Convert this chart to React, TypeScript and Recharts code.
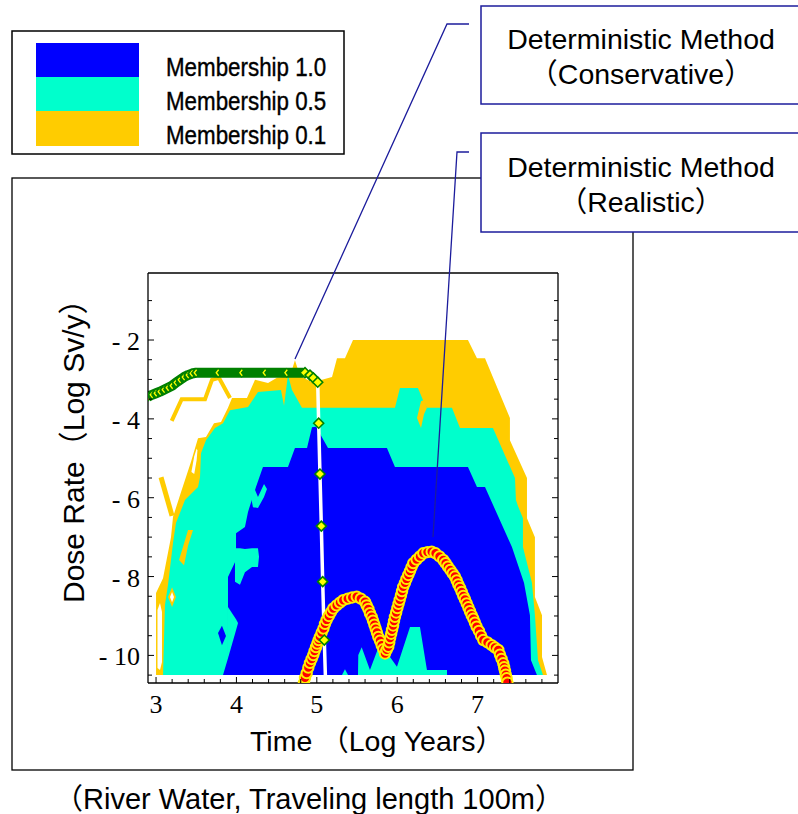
import React from 'react'
import { Area, ComposedChart, Line, XAxis, YAxis } from 'recharts'

const BLUE = '#0000ff'
const CYAN = '#00ffcc'
const YELLOW = '#ffcc00'
const GREEN = '#008000'
const NAVY = '#1c1c9c'
const SANS = "'Liberation Sans', Arial, 'Noto Sans CJK JP', sans-serif"
const SERIF = "'Liberation Serif', 'Times New Roman', 'DejaVu Serif', serif"

// bottom of the computed grid (log Sv/y)
const FLOOR = -10.5

const xTicks = [3, 3.2, 3.4, 3.6, 3.8, 4, 4.2, 4.4, 4.6, 4.8, 5, 5.2, 5.4, 5.6, 5.8, 6, 6.2, 6.4, 6.6, 6.8, 7, 7.2, 7.4, 7.6, 7.8]
const xLabels = [3, 4, 5, 6, 7]
const yTicks = [-1, -1.5, -2, -2.5, -3, -3.5, -4, -4.5, -5, -5.5, -6, -6.5, -7, -7.5, -8, -8.5, -9, -9.5, -10, -10.5]
const yLabels = [-2, -4, -6, -8, -10]

const legendLabels = ['Membership 1.0', 'Membership 0.5', 'Membership 0.1']

// membership contours: [log years, upper edge] (band runs down to FLOOR)
const member01: [number, number][] = [
  [3.0, -10.5], [3.0, -8.42], [3.087, -8.04], [3.186, -7.0], [3.211, -6.49], [3.31, -5.86],
  [3.435, -5.09], [3.522, -4.49], [3.621, -4.46], [3.721, -4.11], [3.808, -4.08], [3.895, -3.72],
  [3.945, -3.47], [4.131, -3.47], [4.231, -3.01], [4.393, -3.09], [4.504, -2.96], [4.666, -2.91],
  [4.728, -2.51], [4.791, -2.91], [5.014, -3.14], [5.064, -3.01], [5.189, -2.94], [5.251, -2.46],
  [5.35, -2.46], [5.45, -2.0], [6.88, -2.0], [6.992, -2.46], [7.092, -2.46], [7.402, -3.98],
  [7.402, -4.54], [7.614, -5.5], [7.614, -6.52], [7.713, -7.0], [7.713, -8.52], [7.801, -8.98],
  [7.801, -10.04], [7.863, -10.5],
]
const member05: [number, number][] = [
  [3.087, -10.5], [3.111, -8.72], [3.149, -8.21], [3.211, -7.15], [3.248, -6.64], [3.36, -6.06],
  [3.522, -5.73], [3.547, -5.48], [3.559, -4.87], [3.621, -4.54], [3.733, -4.23], [3.833, -4.11],
  [3.92, -3.78], [4.144, -3.7], [4.268, -3.32], [4.554, -3.27], [4.592, -3.67], [4.641, -2.89],
  [4.691, -3.27], [4.815, -3.72], [5.972, -3.72], [6.034, -3.22], [6.258, -3.22], [6.32, -3.52],
  [6.37, -3.72], [6.681, -3.72], [6.781, -4.23], [7.191, -4.23], [7.465, -5.5], [7.477, -6.06],
  [7.502, -6.21], [7.564, -6.52], [7.564, -7.25], [7.676, -8.16], [7.713, -8.98], [7.751, -10.12],
  [7.813, -10.5],
]
const member10: [number, number][] = [
  [3.833, -10.5], [3.895, -10.07], [3.895, -8.01], [3.995, -7.58], [3.995, -6.9], [4.106, -6.74],
  [4.144, -6.36], [4.243, -5.73], [4.33, -5.22], [4.641, -5.22], [4.728, -4.74], [4.878, -4.74],
  [4.94, -4.21], [4.99, -4.2], [5.139, -4.74], [5.872, -4.74], [5.972, -5.22], [6.88, -5.22],
  [6.992, -5.73], [7.092, -5.73], [7.427, -7.25], [7.577, -8.16], [7.651, -8.98], [7.664, -10.12],
  [7.738, -10.5],
]

// holes and islands: [log years, low, high]
const gapLeftStrip: [number, number, number][] = [[3.018, -10.32, -8.85], [3.049, -10.37, -8.67], [3.074, -10.17, -8.9]]
const gapSliver: [number, number, number][] = [[3.44, -5.35, -5.35], [3.475, -5.4, -4.95], [3.505, -5.05, -4.75], [3.515, -4.8, -4.8]]
const low01Strip: [number, number, number][] = [[3.286, -7.58, -7.58], [3.348, -7.71, -7.16], [3.398, -7.22, -6.82], [3.46, -6.82, -6.82]]
const low01Ring: [number, number, number][] = [[3.149, -8.52, -8.52], [3.199, -8.77, -8.27], [3.248, -8.52, -8.52]]
const gapRing: [number, number, number][] = [[3.174, -8.52, -8.52], [3.199, -8.65, -8.39], [3.223, -8.52, -8.52]]
const low01Notch: [number, number, number][] = [[6.246, -3.98, -3.98], [6.296, -4.23, -3.55], [6.333, -3.88, -3.52], [6.37, -3.72, -3.72]]
const mid05Pocket: [number, number, number][] = [[3.895, -10.07, -8.77], [3.995, -9.36, -9.08], [4.02, -9.18, -9.18]]
const mid05Hook: [number, number, number][] = [[4.169, -5.86, -5.75], [4.206, -6.24, -5.68], [4.268, -6.26, -5.98], [4.343, -5.98, -5.65], [4.38, -5.78, -5.78]]
const mid05Seven: [number, number, number][] = [[3.982, -8.13, -7.28], [4.044, -8.21, -7.28], [4.106, -7.89, -7.3], [4.194, -7.76, -7.28], [4.268, -7.76, -7.28], [4.281, -7.5, -7.5]]
const mid05BaseA: [number, number, number][] = [[5.313, -10.5, -10.5], [5.35, -10.5, -10.35], [5.388, -10.5, -10.5]]
const mid05BaseB: [number, number, number][] = [
  [5.512, -10.5, -10.5], [5.516, -10.5, -9.99], [5.558, -10.5, -9.79], [5.661, -10.5, -10.37],
  [5.786, -10.5, -9.69], [5.848, -10.5, -9.86], [5.997, -10.5, -10.29], [6.159, -10.5, -9.28],
  [6.283, -10.5, -9.28], [6.37, -10.5, -10.37], [6.619, -10.5, -10.37], [6.62, -10.5, -10.5],
]
const core10Spot: [number, number, number][] = [[3.771, -9.43, -9.43], [3.82, -9.74, -9.25], [3.87, -9.51, -9.51]]

// thin 0.1 contour lines in the upper left
const edgeZigzag: [number, number][] = [[3.195, -4.05], [3.319, -3.5], [3.609, -3.5], [3.696, -3.01], [3.783, -2.96], [3.92, -3.47]]
const edgeSpike: [number, number][] = [[3.062, -5.48], [3.199, -6.46]]

// deterministic, conservative
const conservativeHead: [number, number][] = [
  [2.9, -3.44], [2.95, -3.39], [3.0, -3.35], [3.049, -3.31], [3.099, -3.26], [3.149, -3.21],
  [3.199, -3.16], [3.248, -3.08], [3.298, -3.01], [3.348, -2.94], [3.398, -2.89], [3.447, -2.85],
  [3.497, -2.83], [3.771, -2.83], [4.065, -2.83], [4.355, -2.83], [4.625, -2.83], [4.832, -2.83],
]
const conservativeTail: [number, number][] = [
  [4.853, -2.83], [4.915, -2.89], [4.956, -2.96], [5.011, -3.07], [5.023, -4.11], [5.039, -5.4],
  [5.056, -6.72], [5.073, -8.13], [5.093, -9.61], [5.118, -11.3],
]

// deterministic, realistic
const realistic: [number, number][] = [
  [4.84, -10.7], [4.853, -10.57], [4.874, -10.45], [4.894, -10.31], [4.915, -10.19], [4.936, -10.09],
  [4.956, -9.99], [4.972, -9.89], [4.99, -9.79], [5.006, -9.7], [5.023, -9.61], [5.039, -9.53],
  [5.06, -9.42], [5.082, -9.32], [5.102, -9.2], [5.123, -9.1], [5.15, -9.0], [5.177, -8.9],
  [5.205, -8.81], [5.246, -8.73], [5.288, -8.66], [5.329, -8.6], [5.385, -8.56], [5.44, -8.53],
  [5.496, -8.51], [5.547, -8.56], [5.599, -8.64], [5.62, -8.73], [5.641, -8.82], [5.661, -8.93],
  [5.682, -9.02], [5.699, -9.12], [5.716, -9.22], [5.732, -9.32], [5.748, -9.42], [5.765, -9.53],
  [5.786, -9.63], [5.807, -9.74], [5.827, -9.84], [5.848, -9.95], [5.869, -9.86], [5.889, -9.78],
  [5.901, -9.67], [5.912, -9.56], [5.925, -9.45], [5.936, -9.35], [5.949, -9.24], [5.96, -9.13],
  [5.972, -9.02], [5.987, -8.91], [6.002, -8.8], [6.017, -8.69], [6.031, -8.59], [6.046, -8.48],
  [6.06, -8.37], [6.075, -8.26], [6.097, -8.16], [6.116, -8.06], [6.138, -7.96], [6.159, -7.86],
  [6.179, -7.76], [6.2, -7.66], [6.241, -7.57], [6.283, -7.49], [6.324, -7.41], [6.376, -7.38],
  [6.429, -7.37], [6.477, -7.41], [6.526, -7.49], [6.573, -7.58], [6.602, -7.66], [6.631, -7.75],
  [6.66, -7.83], [6.69, -7.92], [6.718, -8.0], [6.74, -8.1], [6.76, -8.2], [6.781, -8.29],
  [6.802, -8.39], [6.822, -8.49], [6.843, -8.58], [6.864, -8.68], [6.885, -8.78], [6.905, -8.88],
  [6.926, -8.98], [6.947, -9.07], [6.967, -9.17], [6.988, -9.27], [7.016, -9.38], [7.043, -9.5],
  [7.071, -9.61], [7.123, -9.67], [7.175, -9.74], [7.216, -9.8], [7.257, -9.86], [7.278, -9.98],
  [7.298, -10.09], [7.319, -10.2], [7.33, -10.3], [7.34, -10.39], [7.351, -10.49], [7.361, -10.58],
  [7.371, -10.69],
]

const band = (rows: [number, number][]) => rows.map(([x, hi]) => ({ x, lo: FLOOR, hi }))
const patch = (rows: [number, number, number][]) => rows.map(([x, lo, hi]) => ({ x, lo, hi }))
const series = (rows: [number, number][]) => rows.map(([x, y]) => ({ x, y }))
const rangeKey = (d: { lo: number; hi: number }) => [d.lo, d.hi]

// painted bottom to top
const layers = [
  { id: 'm01', data: band(member01), fill: YELLOW },
  { id: 'gap-strip', data: patch(gapLeftStrip), fill: '#ffffff' },
  { id: 'gap-sliver', data: patch(gapSliver), fill: '#ffffff' },
  { id: 'm05', data: band(member05), fill: CYAN },
  { id: 'low-strip', data: patch(low01Strip), fill: YELLOW },
  { id: 'low-ring', data: patch(low01Ring), fill: YELLOW },
  { id: 'gap-ring', data: patch(gapRing), fill: '#ffffff' },
  { id: 'low-notch', data: patch(low01Notch), fill: YELLOW },
  { id: 'm10', data: band(member10), fill: BLUE },
  { id: 'mid-pocket', data: patch(mid05Pocket), fill: CYAN },
  { id: 'mid-hook', data: patch(mid05Hook), fill: CYAN },
  { id: 'mid-seven', data: patch(mid05Seven), fill: CYAN },
  { id: 'mid-base-a', data: patch(mid05BaseA), fill: CYAN },
  { id: 'mid-base-b', data: patch(mid05BaseB), fill: CYAN },
  { id: 'core-spot', data: patch(core10Spot), fill: BLUE },
]

const tickText = { fontFamily: SERIF, fontSize: 26 }

const BottomTick = (p: any) => {
  const v = p.payload.value
  const major = xLabels.includes(v)
  return (
    <g>
      <line x1={p.x} x2={p.x} y1={p.y} y2={p.y - (major ? 6 : 4)} stroke="#000" strokeWidth={1} />
      {major && (
        <text x={p.x} y={p.y + 30} textAnchor="middle" style={tickText} fill="#000">
          {v}
        </text>
      )}
    </g>
  )
}

const TopTick = (p: any) => {
  const major = xLabels.includes(p.payload.value)
  return <line x1={p.x} x2={p.x} y1={p.y} y2={p.y + (major ? 6 : 4)} stroke="#000" strokeWidth={1} />
}

const LeftTick = (p: any) => {
  const v = p.payload.value
  const major = yLabels.includes(v)
  return (
    <g>
      <line x1={p.x} x2={p.x + (major ? 6 : 4)} y1={p.y} y2={p.y} stroke="#000" strokeWidth={1} />
      {major && (
        <text x={p.x - 8} y={p.y + 10} textAnchor="end" style={tickText} fill="#000">
          {`- ${Math.abs(v)}`}
        </text>
      )}
    </g>
  )
}

const RightTick = (p: any) => {
  const major = yLabels.includes(p.payload.value)
  return <line x1={p.x} x2={p.x - (major ? 6 : 4)} y1={p.y} y2={p.y} stroke="#000" strokeWidth={1} />
}

const chevronDot = (p: any) => {
  const { cx, cy, index } = p
  if (cx == null || cy == null) return <g key={`cv-${index}`} />
  return (
    <g key={`cv-${index}`}>
      <path d={`M${cx - 5},${cy}L${cx},${cy - 5}L${cx + 5},${cy}L${cx},${cy + 5}Z`} fill={GREEN} />
      <path d={`M${cx + 0.6},${cy - 3}L${cx - 1.8},${cy}L${cx + 0.6},${cy + 3}`} fill="none" stroke="#ffff00" strokeWidth={1.3} />
    </g>
  )
}

const diamondDot = (p: any) => {
  const { cx, cy, index } = p
  if (cx == null || cy == null) return <g key={`dm-${index}`} />
  const r = 5
  return (
    <path
      key={`dm-${index}`}
      d={`M${cx - r},${cy}L${cx},${cy - r}L${cx + r},${cy}L${cx},${cy + r}Z`}
      fill="#ffff00"
      stroke={GREEN}
      strokeWidth={1.6}
    />
  )
}

const circleDot = (p: any) => {
  const { cx, cy, index } = p
  if (cx == null || cy == null) return <g key={`rc-${index}`} />
  return <circle key={`rc-${index}`} cx={cx} cy={cy} r={5.2} fill="#ff0000" stroke="#ffee00" strokeWidth={2} />
}

const axisLine = { stroke: '#000', strokeWidth: 1.3 }

export default function App() {
  return (
    <div style={{ position: 'absolute', left: 0, top: 0, width: 798, height: 814, background: '#fff' }}>
      <svg width={798} height={814} style={{ position: 'absolute', left: 0, top: 0 }}>
        <rect x={12} y={178} width={621} height={592} fill="none" stroke="#000" strokeWidth={1.3} />

        <rect x={12} y={31} width={332} height={123} fill="#fff" stroke="#000" strokeWidth={1.5} />
        {[BLUE, CYAN, YELLOW].map((c, i) => (
          <rect key={c} x={36} y={43 + i * 34} width={103} height={35} fill={c} />
        ))}
        {legendLabels.map((t, i) => (
          <text
            key={t}
            transform={`translate(166,${76 + i * 34}) scale(0.86,1)`}
            fontFamily={SANS}
            fontSize={26}
            fill="#000"
            stroke="#000"
            strokeWidth={0.4}
          >
            {t}
          </text>
        ))}

        <rect x={481} y={6} width={330} height={98} fill="#fff" stroke={NAVY} strokeWidth={1.5} />
        <rect x={481} y={133} width={330} height={99} fill="#fff" stroke={NAVY} strokeWidth={1.5} />
        <g fontFamily={SANS} fontSize={28.5} fill="#000" textAnchor="middle">
          <text x={641} y={49}>Deterministic Method</text>
          <text x={641} y={84}>（Conservative）</text>
          <text x={641} y={177}>Deterministic Method</text>
          <text x={641} y={212}>（Realistic）</text>
        </g>

        <text x={250} y={751} fontFamily={SANS} fontSize={28.5} fill="#000">
          Time （Log Years）
        </text>
        <text transform="translate(84,603) rotate(-90)" fontFamily={SANS} fontSize={30} fill="#000">
          Dose Rate（Log Sv/y）
        </text>
        <text x={309} y={809} textAnchor="middle" fontFamily={SANS} fontSize={29} fill="#000">
          （River Water, Traveling length 100m）
        </text>
      </svg>

      <div style={{ position: 'absolute', left: 0, top: 0 }}>
        <ComposedChart width={798} height={814} margin={{ top: 272, right: 239, bottom: 130, left: 147 }}>
          <XAxis
            type="number"
            dataKey="x"
            domain={[2.9, 8]}
            allowDataOverflow
            ticks={xTicks}
            interval={0}
            height={1}
            tickSize={0}
            tickMargin={0}
            tickLine={false}
            axisLine={axisLine}
            tick={BottomTick}
          />
          <XAxis
            xAxisId="top"
            orientation="top"
            type="number"
            domain={[2.9, 8]}
            allowDataOverflow
            ticks={xTicks}
            interval={0}
            height={1}
            tickSize={0}
            tickMargin={0}
            tickLine={false}
            axisLine={axisLine}
            tick={TopTick}
          />
          <YAxis
            type="number"
            domain={[-10.7, -0.3]}
            allowDataOverflow
            ticks={yTicks}
            interval={0}
            width={1}
            tickSize={0}
            tickMargin={0}
            tickLine={false}
            axisLine={axisLine}
            tick={LeftTick}
          />
          <YAxis
            yAxisId="right"
            orientation="right"
            type="number"
            domain={[-10.7, -0.3]}
            allowDataOverflow
            ticks={yTicks}
            interval={0}
            width={1}
            tickSize={0}
            tickMargin={0}
            tickLine={false}
            axisLine={axisLine}
            tick={RightTick}
          />

          {layers.map((l) => (
            <Area
              key={l.id}
              data={l.data}
              dataKey={rangeKey}
              type="linear"
              fill={l.fill}
              fillOpacity={1}
              stroke="none"
              activeDot={false}
              isAnimationActive={false}
            />
          ))}

          <Line data={series(edgeZigzag)} dataKey="y" type="linear" stroke={YELLOW} strokeWidth={4} dot={false} activeDot={false} isAnimationActive={false} />
          <Line data={series(edgeSpike)} dataKey="y" type="linear" stroke={YELLOW} strokeWidth={5} dot={false} activeDot={false} isAnimationActive={false} />

          <Line data={series(realistic)} dataKey="y" type="linear" stroke="none" strokeWidth={0} dot={circleDot} activeDot={false} isAnimationActive={false} />

          <Line
            data={series(conservativeHead)}
            dataKey="y"
            type="linear"
            stroke={GREEN}
            strokeWidth={10}
            strokeLinejoin="round"
            dot={chevronDot}
            activeDot={false}
            isAnimationActive={false}
          />
          <Line
            data={series(conservativeTail)}
            dataKey="y"
            type="linear"
            stroke="#ffffff"
            strokeWidth={3.5}
            dot={diamondDot}
            activeDot={false}
            isAnimationActive={false}
          />
        </ComposedChart>
      </div>

      <svg width={798} height={814} style={{ position: 'absolute', left: 0, top: 0, pointerEvents: 'none' }}>
        <polyline points="469,24 447,24 295,359" fill="none" stroke={NAVY} strokeWidth={1.3} />
        <polyline points="469,152 457,152 433,537" fill="none" stroke={NAVY} strokeWidth={1.3} />
      </svg>
    </div>
  )
}
